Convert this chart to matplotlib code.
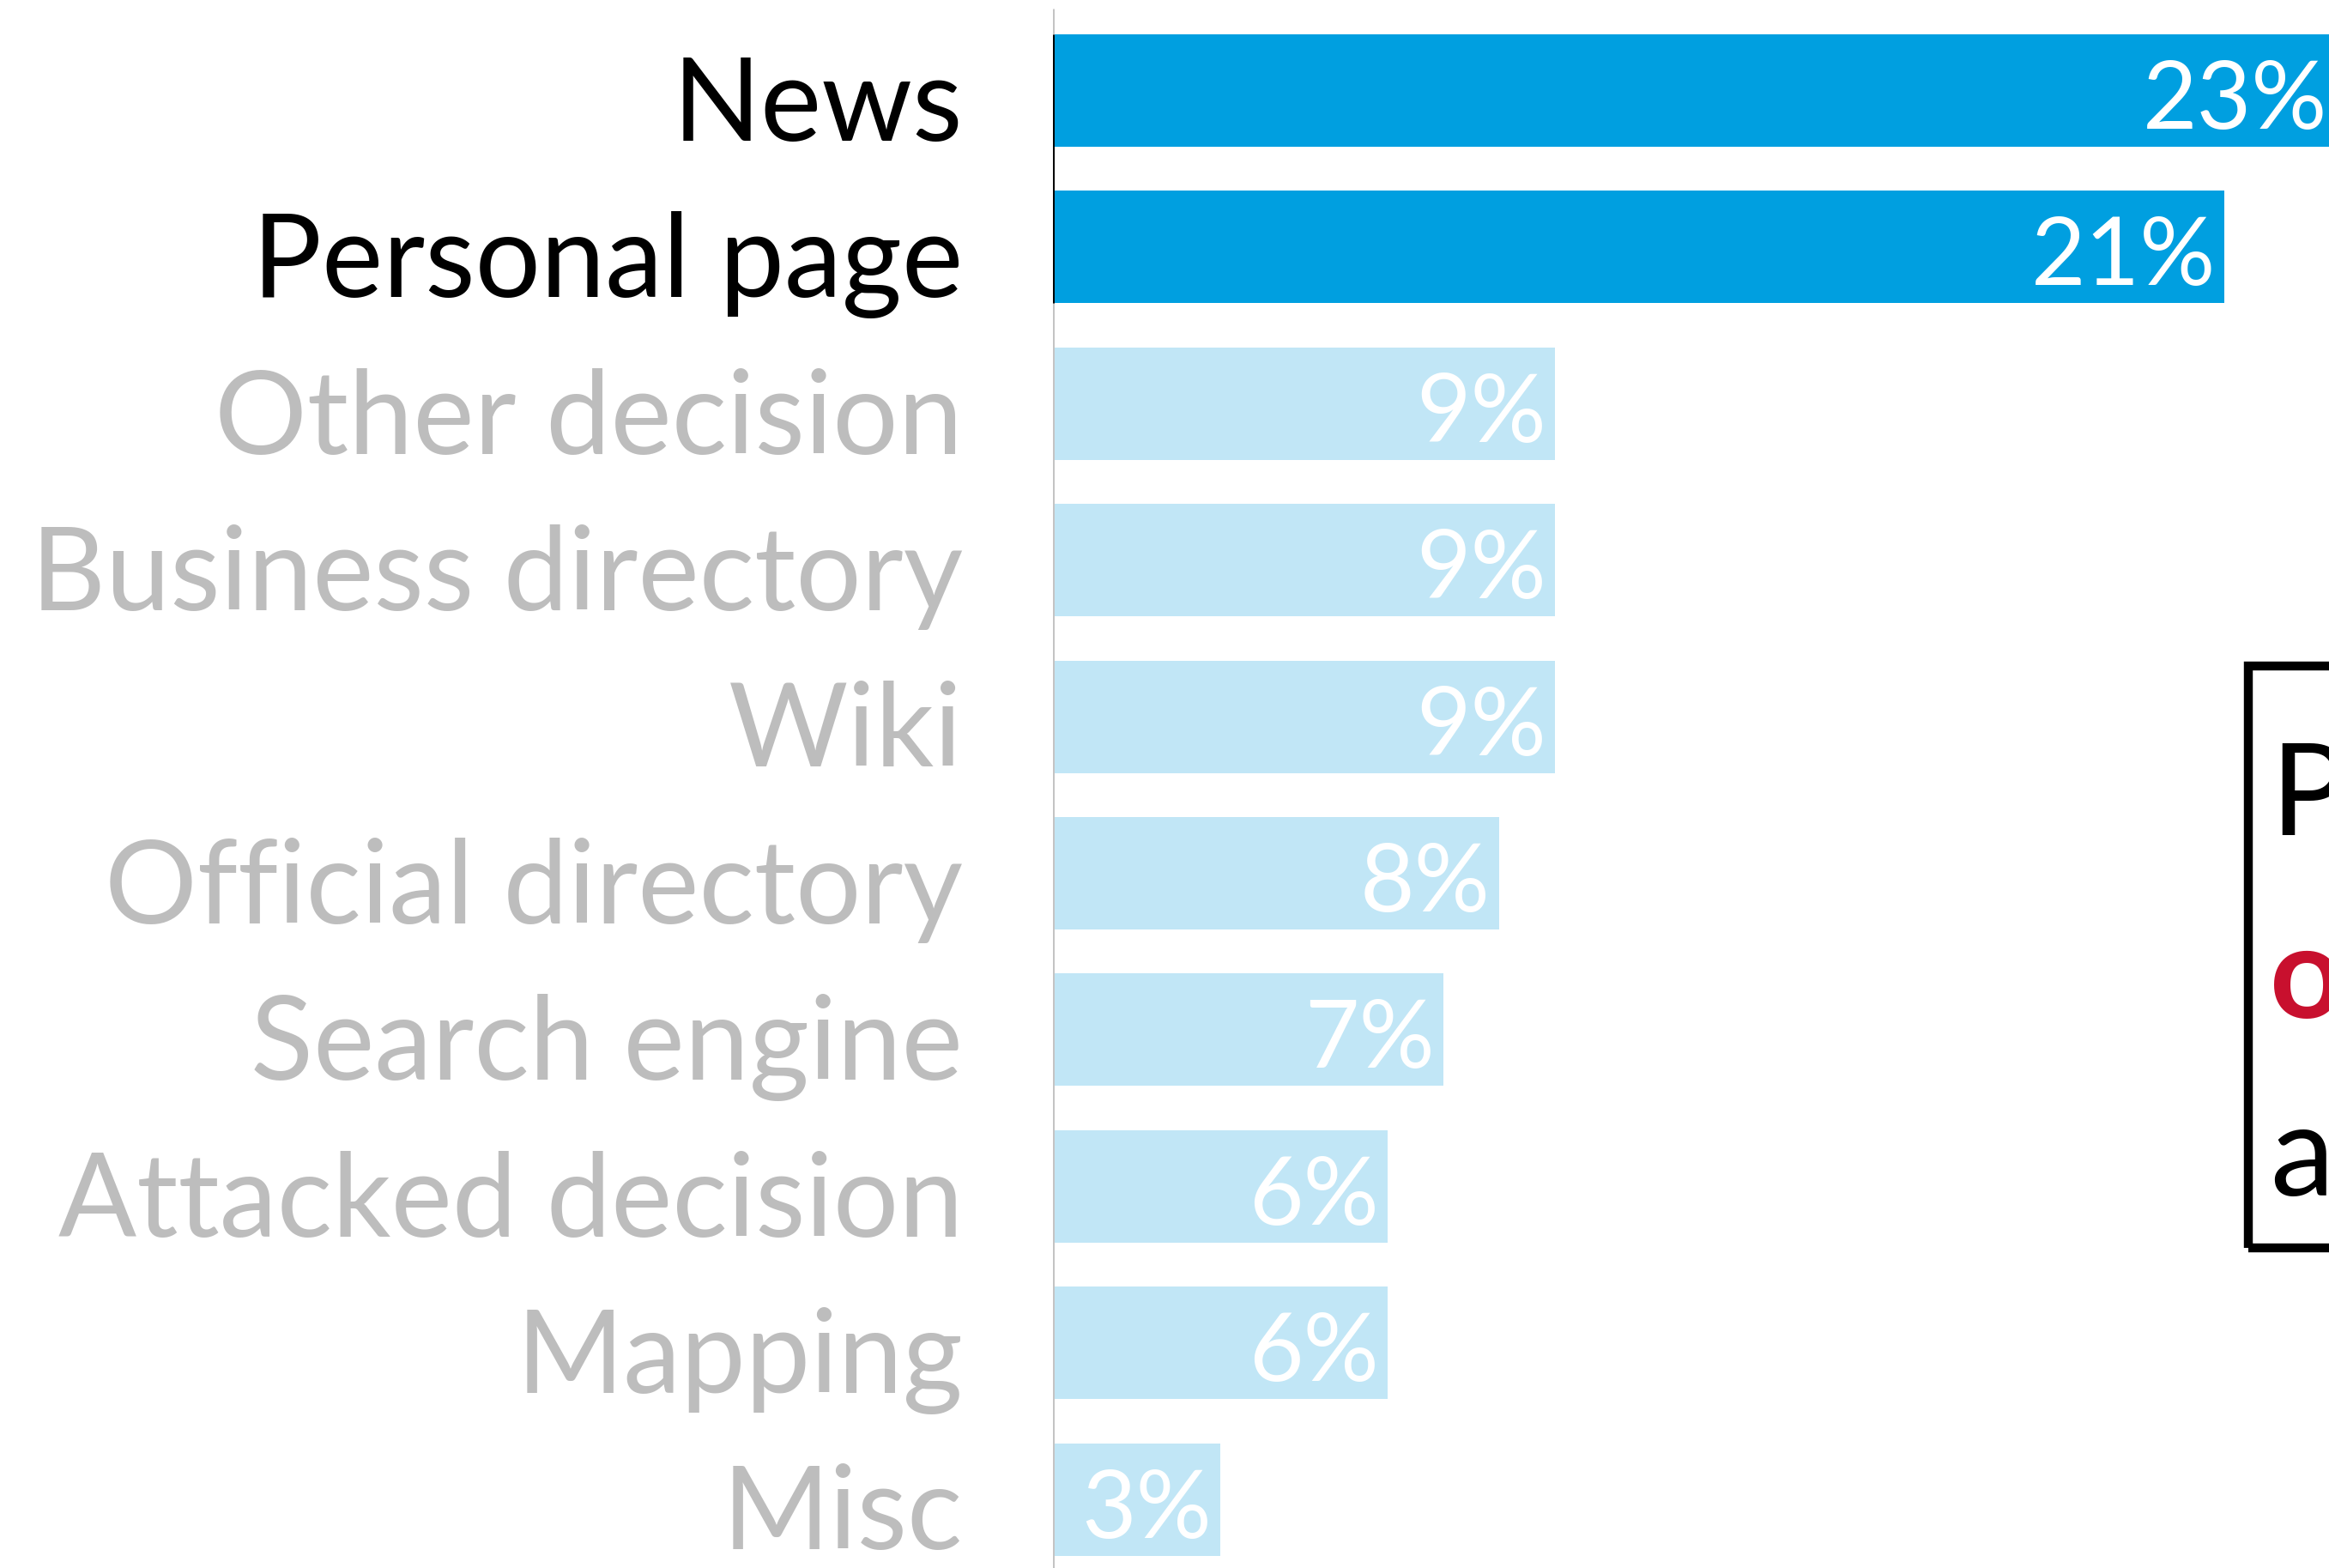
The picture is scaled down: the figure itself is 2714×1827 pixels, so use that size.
import matplotlib
matplotlib.use('Agg')
import matplotlib.pyplot as plt
from matplotlib.patches import Rectangle

plt.rcParams['font.family'] = ['Lato', 'DejaVu Sans']

# data
categories = ['News', 'Personal page', 'Other decision', 'Business directory', 'Wiki',
              'Official directory', 'Search engine', 'Attacked decision', 'Mapping', 'Misc']
shares = [23, 21, 9, 9, 9, 8, 7, 6, 6, 3]
highlight = [True, True, False, False, False, False, False, False, False, False]

dark_blue = '#009FE0'
light_blue = '#C1E6F6'
grey_txt = '#BDBDBD'

W, H = 2714, 1827
fig = plt.figure(figsize=(W / 100, H / 100), dpi=100)

x0 = 1227
ax = fig.add_axes([x0 / W, 0, 1 - x0 / W, 1])
px_per_pct = 65.0
pitch = 182.4
c0 = 105.5
ax.set_xlim(0, (W - x0) / px_per_pct)
ax.set_ylim((H - c0) / pitch, -c0 / pitch)
ax.axis('off')

ypos = list(range(len(categories)))
cols = [dark_blue if h else light_blue for h in highlight]
ax.barh(ypos, shares, height=0.718, color=cols, linewidth=0)

# axis line, grey, with black segment along highlighted bars
ax.plot([0, 0], [(10 - c0) / pitch, (H - c0) / pitch], color='#C4C4C4', lw=2.2, solid_capstyle='butt')
ax.plot([0, 0], [-0.359, 1.359], color='black', lw=2.2, solid_capstyle='butt')

lab_x = (1122 - x0) / (W - x0)
for y, name, val, h in zip(ypos, categories, shares, highlight):
    ax.text(lab_x, y + 0.32, name, transform=ax.get_yaxis_transform(),
            ha='right', va='baseline', fontsize=97, color='black' if h else grey_txt)
    ax.text(val - 10 / px_per_pct, y + 0.244, f'{val}%', ha='right', va='baseline',
            fontsize=79, color='white', clip_on=False)

# boxed note on the right, cut by the figure edge
box = Rectangle((2620 / W, 1 - 1454 / H), 300 / W, (1454 - 776) / H, transform=fig.transFigure,
                fill=False, edgecolor='black', lw=7.5)
fig.patches.append(box)
fig.text(2645 / W, 1 - 973 / H, 'P', fontsize=108, color='black', va='baseline')
fig.text(2645 / W, 1 - 1186 / H, 'o', fontsize=108, color='#C8102E', fontweight='bold', va='baseline')
fig.text(2645 / W, 1 - 1393 / H, 'a', fontsize=108, color='black', va='baseline')

fig.savefig('out.png', dpi=100)
